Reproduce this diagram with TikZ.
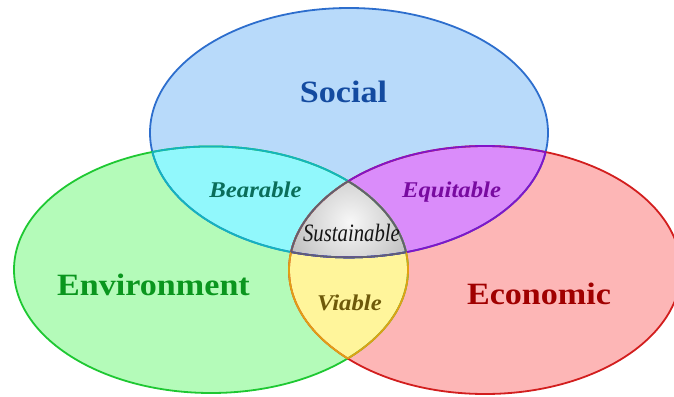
\documentclass[tikz,border=0pt]{standalone}
\usepackage{fontspec}
\newfontfamily\lblfont[FakeStretch=1.1]{Liberation Serif}
\newfontfamily\susfont[FakeStretch=0.83]{Liberation Serif}
\definecolor{socfill}{RGB}{184,218,250}
\definecolor{envfill}{RGB}{180,251,185}
\definecolor{ecofill}{RGB}{253,182,182}
\definecolor{bearfill}{RGB}{145,248,252}
\definecolor{equifill}{RGB}{218,140,250}
\definecolor{viafill}{RGB}{255,245,155}
\definecolor{socline}{RGB}{45,110,205}
\definecolor{envline}{RGB}{30,200,50}
\definecolor{ecoline}{RGB}{210,30,30}
\definecolor{bearline}{RGB}{20,180,190}
\definecolor{equiline}{RGB}{130,20,200}
\definecolor{vialine}{RGB}{225,160,20}
\definecolor{susline}{RGB}{95,95,115}
\definecolor{soctext}{RGB}{20,75,160}
\definecolor{envtext}{RGB}{10,150,30}
\definecolor{ecotext}{RGB}{160,0,0}
\definecolor{beartext}{RGB}{10,110,90}
\definecolor{equitext}{RGB}{120,10,160}
\definecolor{viatext}{RGB}{110,90,10}
\definecolor{sustext}{RGB}{20,20,20}
\newcommand{\pathSoc}{(349,132.7) ellipse [x radius=199pt, y radius=124.7pt]}
\newcommand{\pathEnv}{(211,269.7) ellipse [x radius=197pt, y radius=123.3pt]}
\newcommand{\pathEco}{(485,270) ellipse [x radius=196pt, y radius=124pt]}
\tikzset{
  edge/.style={line width=1.8pt},
  biglabel/.style={inner sep=0pt, anchor=base, font=\lblfont\bfseries\fontsize{31}{31}\selectfont},
  lenslabel/.style={inner sep=0pt, anchor=base, font=\lblfont\bfseries\itshape\fontsize{22.5}{22.5}\selectfont},
  suslabel/.style={inner sep=0pt, anchor=base, font=\susfont\itshape\fontsize{25}{25}\selectfont}
}
\begin{document}
\begin{tikzpicture}[x=1pt,y=-1pt]
\useasboundingbox (0,0) rectangle (674,396);
% base fills
\fill[socfill] \pathSoc;
\fill[envfill] \pathEnv;
\fill[ecofill] \pathEco;
% lens fills
\begin{scope}\clip \pathSoc; \fill[bearfill] \pathEnv; \end{scope}
\begin{scope}\clip \pathSoc; \fill[equifill] \pathEco; \end{scope}
\begin{scope}\clip \pathEnv; \fill[viafill] \pathEco; \end{scope}
\begin{scope}\clip \pathSoc; \clip \pathEnv; \clip \pathEco;
  \shade[inner color=gray!6, outer color=gray!55] (350,222) circle (72pt);
\end{scope}
% outer strokes
\draw[edge, socline] \pathSoc;
\draw[edge, envline] \pathEnv;
\draw[edge, ecoline] \pathEco;
% lens strokes
\begin{scope}\clip \pathEnv; \draw[edge, bearline] \pathSoc; \end{scope}
\begin{scope}\clip \pathSoc; \draw[edge, bearline] \pathEnv; \end{scope}
\begin{scope}\clip \pathEco; \draw[edge, equiline] \pathSoc; \end{scope}
\begin{scope}\clip \pathSoc; \draw[edge, equiline] \pathEco; \end{scope}
\begin{scope}\clip \pathEco; \draw[edge, vialine] \pathEnv; \end{scope}
\begin{scope}\clip \pathEnv; \draw[edge, vialine] \pathEco; \end{scope}
% centre strokes
\begin{scope}\clip \pathEnv; \clip \pathEco; \draw[edge, susline] \pathSoc; \end{scope}
\begin{scope}\clip \pathSoc; \clip \pathEco; \draw[edge, susline] \pathEnv; \end{scope}
\begin{scope}\clip \pathSoc; \clip \pathEnv; \draw[edge, susline] \pathEco; \end{scope}
% labels
\node[biglabel, text=soctext] (social) at (343.5,102) {Social};
\node[biglabel, text=envtext] (environment) at (153.5,295) {Environment};
\node[biglabel, text=ecotext] (economic) at (539,304) {Economic};
\node[lenslabel, text=beartext] (bearable) at (255.5,197) {Bearable};
\node[lenslabel, text=equitext] (equitable) at (451.5,197) {Equitable};
\node[lenslabel, text=viatext] (viable) at (349.5,310) {Viable};
\node[suslabel, text=sustext] (sustainable) at (351.5,241.5) {Sustainable};
\end{tikzpicture}
\end{document}
